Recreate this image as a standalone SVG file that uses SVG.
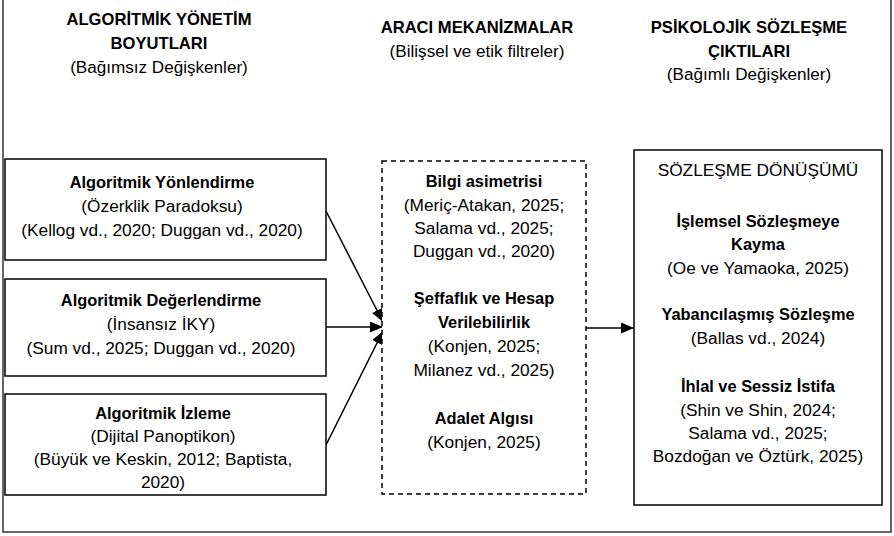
<svg xmlns="http://www.w3.org/2000/svg" width="894" height="536" viewBox="0 0 894 536">
<style>
  text { font-family: "Liberation Sans", Arial, sans-serif; fill: #000; text-anchor: middle; }
  .h { font-size: 16.6px; font-weight: bold; }
  .s { font-size: 17.1px; }
  .b { font-size: 16.4px; font-weight: bold; }
  .r { font-size: 17.3px; }
  .box { fill: #fff; stroke: #000; stroke-width: 1.5; }
  .dash { fill: #fff; stroke: #000; stroke-width: 1.5; stroke-dasharray: 5 4; }
  .conn { stroke: #000; stroke-width: 1.5; fill: none; marker-end: url(#arrow); }
</style>
<defs>
  <marker id="arrow" markerUnits="userSpaceOnUse" markerWidth="13" markerHeight="11" viewBox="0 0 13 11" refX="13" refY="5.5" orient="auto">
    <path d="M0,0 L13,5.5 L0,11 z" fill="#000"/>
  </marker>
</defs>
<rect width="894" height="536" fill="#fff"/>
<g id="frame">
  <rect x="3" y="-2" width="888" height="534" fill="none" stroke="#333" stroke-width="1.5"/>
</g>
<g id="header-left">
  <text class="h" x="159" y="25">ALGORİTMİK YÖNETİM</text>
  <text class="h" x="159" y="49">BOYUTLARI</text>
  <text class="s" x="159" y="73">(Bağımsız Değişkenler)</text>
</g>
<g id="header-mid">
  <text class="h" x="477" y="33">ARACI MEKANİZMALAR</text>
  <text class="s" x="477" y="57">(Bilişsel ve etik filtreler)</text>
</g>
<g id="header-right">
  <text class="h" x="749" y="33">PSİKOLOJİK SÖZLEŞME</text>
  <text class="h" x="749" y="57">ÇIKTILARI</text>
  <text class="s" x="749" y="80">(Bağımlı Değişkenler)</text>
</g>
<g id="connectors">
  <line class="conn" x1="326" y1="211" x2="383" y2="322"/>
  <line class="conn" x1="326" y1="327" x2="383" y2="327"/>
  <line class="conn" x1="326" y1="445" x2="383" y2="331"/>
  <line class="conn" x1="586" y1="328" x2="634" y2="328"/>
</g>
<g id="node-yonlendirme">
  <rect class="box" x="5" y="159" width="321" height="101"/>
  <text class="b" x="162" y="188">Algoritmik Yönlendirme</text>
  <text class="r" x="162" y="212">(Özerklik Paradoksu)</text>
  <text class="r" x="162" y="236">(Kellog vd., 2020; Duggan vd., 2020)</text>
</g>
<g id="node-degerlendirme">
  <rect class="box" x="5" y="279" width="321" height="97"/>
  <text class="b" x="161" y="306">Algoritmik Değerlendirme</text>
  <text class="r" x="161" y="330">(İnsansız İKY)</text>
  <text class="r" x="161" y="354">(Sum vd., 2025; Duggan vd., 2020)</text>
</g>
<g id="node-izleme">
  <rect class="box" x="5" y="394" width="321" height="101"/>
  <text class="b" x="163" y="419">Algoritmik İzleme</text>
  <text class="r" x="163" y="442">(Dijital Panoptikon)</text>
  <text class="r" x="163" y="465">(Büyük ve Keskin, 2012; Baptista,</text>
  <text class="r" x="163" y="488">2020)</text>
</g>
<g id="node-araci">
  <rect class="dash" x="382" y="161" width="204" height="333"/>
  <text class="b" x="484" y="187">Bilgi asimetrisi</text>
  <text class="r" x="484" y="211">(Meriç-Atakan, 2025;</text>
  <text class="r" x="484" y="234">Salama vd., 2025;</text>
  <text class="r" x="484" y="257">Duggan vd., 2020)</text>
  <text class="b" x="484" y="304">Şeffaflık ve Hesap</text>
  <text class="b" x="484" y="328">Verilebilirlik</text>
  <text class="r" x="484" y="352">(Konjen, 2025;</text>
  <text class="r" x="484" y="376">Milanez vd., 2025)</text>
  <text class="b" x="484" y="424">Adalet Algısı</text>
  <text class="r" x="484" y="448">(Konjen, 2025)</text>
</g>
<g id="node-sozlesme">
  <rect class="box" x="634" y="150" width="248" height="355"/>
  <text class="r" x="758" y="176">SÖZLEŞME DÖNÜŞÜMÜ</text>
  <text class="b" x="758" y="227">İşlemsel Sözleşmeye</text>
  <text class="b" x="758" y="250">Kayma</text>
  <text class="r" x="758" y="274">(Oe ve Yamaoka, 2025)</text>
  <text class="b" x="758" y="320">Yabancılaşmış Sözleşme</text>
  <text class="r" x="758" y="344">(Ballas vd., 2024)</text>
  <text class="b" x="758" y="392">İhlal ve Sessiz İstifa</text>
  <text class="r" x="758" y="416">(Shin ve Shin, 2024;</text>
  <text class="r" x="758" y="439">Salama vd., 2025;</text>
  <text class="r" x="758" y="462">Bozdoğan ve Öztürk, 2025)</text>
</g>
</svg>
